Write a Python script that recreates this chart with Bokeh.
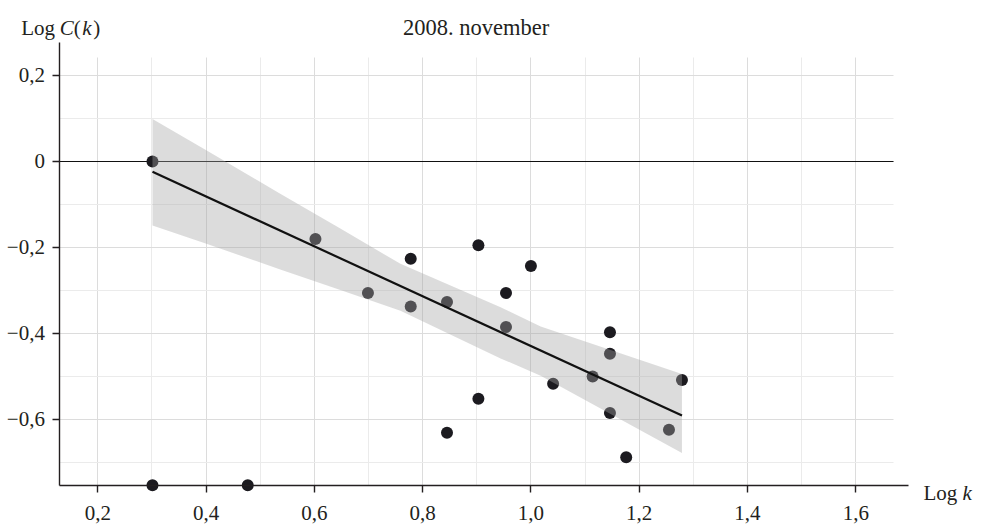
from bokeh.plotting import figure
from bokeh.models import Range1d, FixedTicker, Label, Grid, LinearAxis
from bokeh.embed import file_html
from bokeh.resources import INLINE

# ---- data ----
log_k = [0.301, 0.301, 0.477, 0.602, 0.699, 0.778, 0.778, 0.845, 0.845, 0.903, 0.903,
         0.954, 0.954, 1.000, 1.041, 1.114, 1.146, 1.146, 1.146, 1.176, 1.255, 1.279]
log_ck = [0.000, -0.753, -0.753, -0.180, -0.306, -0.226, -0.337, -0.327, -0.631, -0.195, -0.552,
          -0.306, -0.385, -0.243, -0.517, -0.500, -0.397, -0.447, -0.585, -0.688, -0.624, -0.508]

fit_x = [0.301, 1.279]
fit_y = [-0.024, -0.591]

band_x = [0.301, 0.402, 0.537, 0.648, 0.759, 0.944, 1.018, 1.279]
band_upper = [0.099, 0.025, -0.075, -0.156, -0.238, -0.339, -0.384, -0.494]
band_lower = [-0.149, -0.192, -0.251, -0.299, -0.347, -0.458, -0.498, -0.678]

x_ticks = [0.2, 0.4, 0.6, 0.8, 1.0, 1.2, 1.4, 1.6]
x_tick_labels = ["0,2", "0,4", "0,6", "0,8", "1,0", "1,2", "1,4", "1,6"]
x_minor = [0.3, 0.5, 0.7, 0.9, 1.1, 1.3, 1.5]
y_ticks = [0.2, 0.0, -0.2, -0.4, -0.6]
y_tick_labels = ["0,2", "0", "\u22120,2", "\u22120,4", "\u22120,6"]
y_minor = [0.1, -0.1, -0.3, -0.5, -0.7]

title_text = "2008. november"
x_label = ["Log ", "k"]
y_label = ["Log ", "C", "(", "k", ")"]

# axis extents (data units) and visible canvas window
AX_X0, AX_X1 = 0.13, 1.697
AX_Y0, AX_Y1 = -0.753, 0.277
GRID_X1, GRID_Y1 = 1.67, 0.243
VIEW_X0, VIEW_X1 = 0.0203, 1.8341
VIEW_Y0, VIEW_Y1 = -0.8442, 0.3744

FONT = "Liberation Serif"
INK = "#231f20"
FS = "21px"

p = figure(width=982, height=524,
           x_range=Range1d(VIEW_X0, VIEW_X1), y_range=Range1d(VIEW_Y0, VIEW_Y1),
           output_backend="svg", toolbar_location=None,
           x_axis_location=None, y_axis_location=None,
           min_border_left=0, min_border_right=0, min_border_top=0, min_border_bottom=0)
p.outline_line_color = None
p.background_fill_color = "white"
p.border_fill_color = "white"
p.grid.visible = False

xaxis = LinearAxis(fixed_location=AX_Y0, bounds=(AX_X0, AX_X1),
                   ticker=FixedTicker(ticks=x_ticks, minor_ticks=x_minor))
yaxis = LinearAxis(fixed_location=AX_X0, bounds=(AX_Y0, AX_Y1),
                   ticker=FixedTicker(ticks=y_ticks, minor_ticks=y_minor))
xaxis.major_label_overrides = dict(zip(x_ticks, x_tick_labels))
yaxis.major_label_overrides = dict(zip(y_ticks, y_tick_labels))
for ax in (xaxis, yaxis):
    ax.axis_line_color = INK
    ax.axis_line_width = 1.4
    ax.major_tick_line_color = INK
    ax.major_tick_line_width = 1.4
    ax.major_tick_out = 7
    ax.major_tick_in = 0
    ax.minor_tick_line_color = None
    ax.major_label_text_font = FONT
    ax.major_label_text_font_size = FS
    ax.major_label_text_color = INK
xaxis.major_label_standoff = 14
yaxis.major_label_standoff = 8

xgrid = Grid(dimension=0, ticker=FixedTicker(ticks=x_ticks, minor_ticks=x_minor),
             cross_bounds=(AX_Y0, GRID_Y1))
ygrid = Grid(dimension=1, ticker=FixedTicker(ticks=y_ticks, minor_ticks=y_minor),
             cross_bounds=(AX_X0, GRID_X1))
for g in (xgrid, ygrid):
    g.grid_line_color = "#dcdcdc"
    g.grid_line_width = 1
    g.minor_grid_line_color = "#ebebeb"
    g.minor_grid_line_width = 1
    p.add_layout(g)

zero_line = Grid(dimension=1, ticker=FixedTicker(ticks=[0.0]),
                 grid_line_color="#111111", grid_line_width=1,
                 cross_bounds=(AX_X0, GRID_X1))
p.add_layout(zero_line)

p.add_layout(xaxis, "below")
p.add_layout(yaxis, "left")

p.scatter(log_k, log_ck, size=12, fill_color="#1c1b20", line_color=None)
p.varea(x=band_x, y1=band_lower, y2=band_upper, fill_color="#a5a5a5", fill_alpha=0.39)
p.line(fit_x, fit_y, line_color="#111111", line_width=2.2)

def lab(txt, x, y, style="normal", align="left", size=FS):
    p.add_layout(Label(x=x, y=y, text=txt,
                       text_font=FONT, text_font_size=size, text_color=INK,
                       text_font_style=style, text_align=align,
                       text_baseline="alphabetic"))

TOP_BASE = 0.3116
# y-axis title (above axis)
lab(y_label[0], 0.0586, TOP_BASE)
lab(y_label[1], 0.1299, TOP_BASE, "italic")
lab(y_label[2], 0.1557, TOP_BASE)
lab(y_label[3], 0.1712, TOP_BASE, "italic")
lab(y_label[4], 0.1915, TOP_BASE)
# chart title
lab(title_text, 0.8986, TOP_BASE, align="center", size="22.5px")
# x-axis title (right of axis)
lab(x_label[0], 1.7251, -0.7698)
lab(x_label[1], 1.7972, -0.7698, "italic")

open("out.html", "w").write(file_html(p, INLINE))
